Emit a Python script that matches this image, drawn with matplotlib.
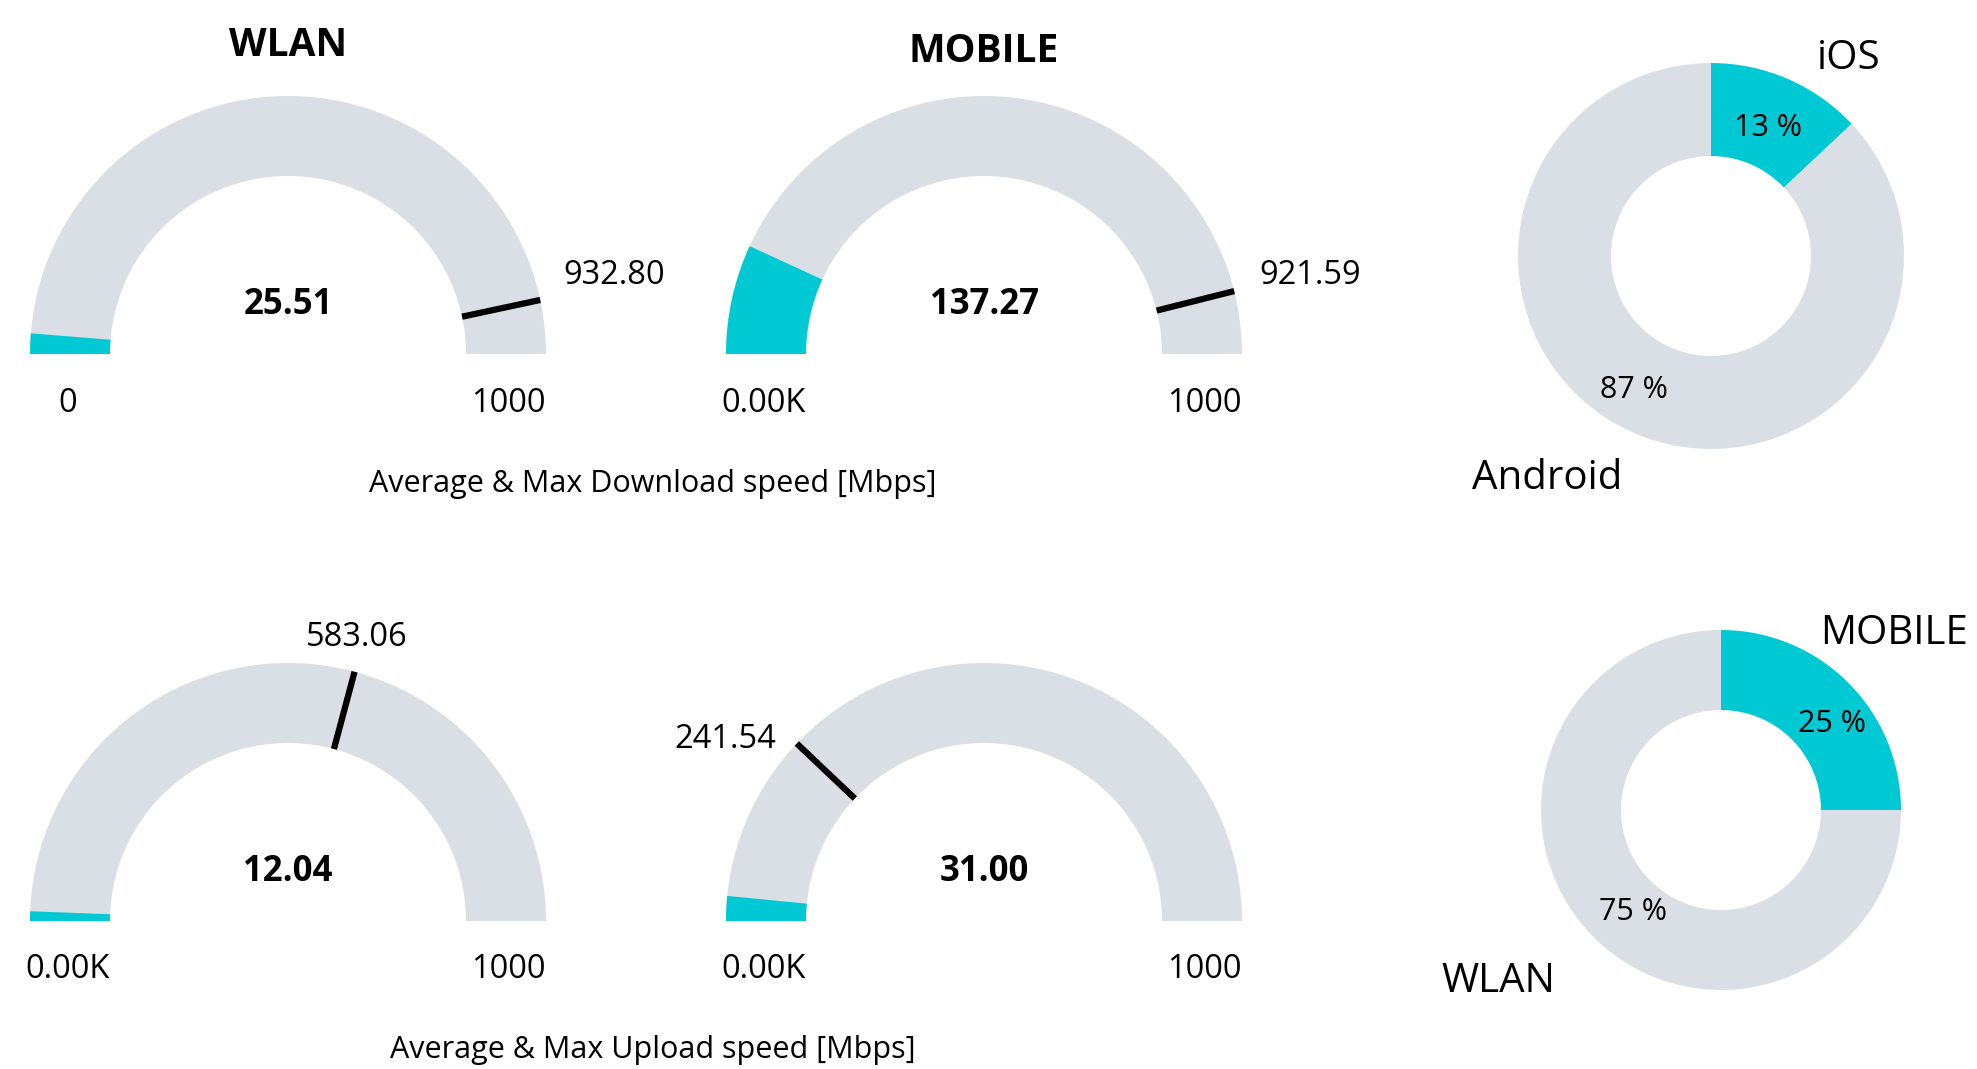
import matplotlib
matplotlib.use("Agg")
import matplotlib.pyplot as plt
from matplotlib.patches import Wedge
import numpy as np

plt.rcParams['font.family'] = ['Open Sans', 'DejaVu Sans']

# ---- data ----
gauge_titles = ["WLAN", "MOBILE", "", ""]
gauge_avg = [25.51, 137.27, 12.04, 31.00]
gauge_max = [932.80, 921.59, 583.06, 241.54]
gauge_min_labels = ["0", "0.00K", "0.00K", "0.00K"]
gauge_max_labels = ["1000", "1000", "1000", "1000"]
gauge_range = 1000
subtitles = ["Average & Max Download speed [Mbps]", "Average & Max Upload speed [Mbps]"]

os_labels = ["iOS", "Android"]
os_shares = [13, 87]
net_labels = ["MOBILE", "WLAN"]
net_shares = [25, 75]

CYAN = "#00C9D3"
GRAY = "#D9DFE4"

W, H = 1977, 1069
fig = plt.figure(figsize=(W / 100, H / 100), dpi=100)
ax = fig.add_axes([0, 0, 1, 1])
ax.set_xlim(0, W)
ax.set_ylim(H, 0)
ax.set_aspect('equal')
ax.axis('off')

DY = 4  # text baseline nudge
centers = [(288, 354), (984, 354), (288, 921), (984, 921)]
R_OUT, R_IN = 258, 178

def ang(v):
    return 180.0 * (1 - v / gauge_range)

for i, (cx, cy) in enumerate(centers):
    # y axis inverted: visual angle a is data angle -a
    ax.add_patch(Wedge((cx, cy), R_OUT, -180, 0, width=R_OUT - R_IN, facecolor=GRAY, edgecolor='none'))
    a = ang(gauge_avg[i])
    ax.add_patch(Wedge((cx, cy), R_OUT, -180, -a, width=R_OUT - R_IN, facecolor=CYAN, edgecolor='none'))
    m = np.deg2rad(ang(gauge_max[i]))
    ax.plot([cx + R_IN * np.cos(m), cx + R_OUT * np.cos(m)],
            [cy - R_IN * np.sin(m), cy - R_OUT * np.sin(m)],
            color='black', lw=4.5, solid_capstyle='butt')
    ax.text(cx, cy - 49, f"{gauge_avg[i]:.2f}", ha='center', va='center',
            fontsize=25, fontweight='bold')
    ax.text(cx - 220, cy + 45 + DY, gauge_min_labels[i], ha='center', va='center', fontsize=23.5)
    ax.text(cx + 220, cy + 45 + DY, gauge_max_labels[i], ha='center', va='center', fontsize=23.5)
    if gauge_titles[i]:
        ax.text(cx, [45, 51][i], gauge_titles[i], ha='center', va='center',
                fontsize=28, fontweight='bold')

max_label_pos = [(614, 272), (1310, 272), (357, 634), (725, 735)]
for (x, y), v in zip(max_label_pos, gauge_max):
    ax.text(x, y + DY, f"{v:.2f}", ha='center', va='center', fontsize=23.5)

ax.text(653, 480 + DY, subtitles[0], ha='center', va='center', fontsize=22)
ax.text(653, 1050, subtitles[1], ha='center', va='center', fontsize=22)

# donuts (y axis inverted: start at data angle -90 = visual top, ccw in data = clockwise visually)
def donut(center, r_out, r_in, shares, labels, pct_pos, lab_pos):
    ax.pie(shares, colors=[CYAN, GRAY], startangle=-90, counterclock=True,
           center=center, radius=r_out, frame=True,
           wedgeprops=dict(width=r_out - r_in, edgecolor='none'))
    for (x, y), s in zip(pct_pos, shares):
        ax.text(x, y + DY, f"{s} %", ha='center', va='center', fontsize=22)
    for (x, y), l in zip(lab_pos, labels):
        ax.text(x, y + DY, l, ha='center', va='center', fontsize=29)

donut((1711, 256), 193, 100, os_shares, os_labels,
      [(1768, 124), (1634, 386)], [(1849, 55), (1547, 475)])
donut((1721, 810), 180, 100, net_shares, net_labels,
      [(1832, 720), (1633, 908)], [(1894, 630), (1498, 978)])

ax.set_xlim(0, W)
ax.set_ylim(H, 0)
ax.axis('off')

fig.savefig("out.png", dpi=100)
